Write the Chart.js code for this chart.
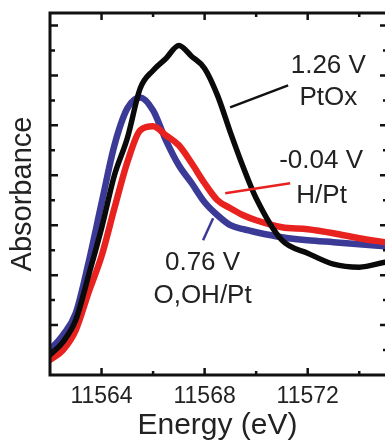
<!DOCTYPE html>
<html>
<head>
<meta charset="utf-8">
<script src="https://cdn.jsdelivr.net/npm/chart.js@4/dist/chart.umd.min.js"></script>
<style>
  html, body { margin: 0; padding: 0; background: #fff; }
  #wrap { width: 385px; height: 441px; }
</style>
</head>
<body>
<div id="wrap"><canvas id="xanes"></canvas></div>
<script>
// Pt L3 edge spectra
const energy = [11562, 11562.5, 11563, 11563.5, 11564, 11564.5, 11565, 11565.5, 11566, 11566.5, 11567,
    11567.5, 11568, 11568.5, 11569, 11569.5, 11570, 11571, 11572, 11573, 11574, 11575];
const ptox = [0.80, 1.32, 2.20, 4.00, 5.88, 8.00, 9.48, 11.48, 12.20, 12.68, 13.20,
    12.76, 12.28, 11.20, 9.72, 8.32, 7.08, 5.40, 4.88, 4.44, 4.32, 4.52];     // 1.26 V
const ohpt = [1.00, 1.60, 2.48, 4.52, 6.88, 9.20, 10.68, 11.12, 10.60, 9.40, 8.40,
    7.68, 6.92, 6.40, 6.00, 5.84, 5.72, 5.52, 5.40, 5.32, 5.24, 5.16];        // 0.76 V
const hpt = [0.60, 1.00, 1.80, 3.32, 4.76, 6.68, 8.52, 9.80, 9.96, 9.60, 9.20,
    8.48, 7.68, 7.00, 6.68, 6.40, 6.20, 5.92, 5.84, 5.68, 5.48, 5.32];        // -0.04 V

const xTickLabels = [11564, 11568, 11572];
const xMinorTicks = [11566, 11570, 11574];

// labels and pointer lines, in data units
const notes = [
    { text: "1.26 V", x: 11572.8, y: 12.08 },
    { text: "PtOx", x: 11572.8, y: 10.8 },
    { text: "-0.04 V", x: 11572.52, y: 8.28 },
    { text: "H/Pt", x: 11572.54, y: 6.88 },
    { text: "0.76 V", x: 11567.92, y: 4.2 },
    { text: "O,OH/Pt", x: 11567.92, y: 2.88 }
];
const pointers = [
    { color: "#111", from: [11568.99, 10.72], to: [11571.24, 11.6] },
    { color: "#e8231f", from: [11568.8, 7.28], to: [11571.32, 7.68] },
    { color: "#3b3b96", from: [11567.94, 5.4], to: [11568.33, 6.28] }
];

const toPoints = (ys) => ys.map((v, i) => ({ x: energy[i], y: v }));

const FONT = "'Liberation Sans', Arial, Helvetica, sans-serif";

const framePlugin = {
    id: "frame",
    afterDatasetsDraw(chart) {
        const { ctx, chartArea: a, scales: { x, y } } = chart;
        ctx.save();

        // pointer lines
        ctx.lineWidth = 2.5;
        pointers.forEach(p => {
            ctx.strokeStyle = p.color;
            ctx.beginPath();
            ctx.moveTo(x.getPixelForValue(p.from[0]), y.getPixelForValue(p.from[1]));
            ctx.lineTo(x.getPixelForValue(p.to[0]), y.getPixelForValue(p.to[1]));
            ctx.stroke();
        });

        // labels
        ctx.fillStyle = "#222";
        ctx.font = "26px " + FONT;
        ctx.textAlign = "center";
        ctx.textBaseline = "alphabetic";
        notes.forEach(n => ctx.fillText(n.text, x.getPixelForValue(n.x), y.getPixelForValue(n.y)));

        // box (right side is cut off by the picture edge)
        ctx.strokeStyle = "#111";
        ctx.lineWidth = 3;
        ctx.beginPath();
        ctx.moveTo(a.right + 3, a.top);
        ctx.lineTo(a.left, a.top);
        ctx.lineTo(a.left, a.bottom);
        ctx.lineTo(a.right + 3, a.bottom);
        ctx.stroke();

        // inward ticks
        ctx.lineWidth = 2.5;
        ctx.beginPath();
        const xTick = (v, len) => {
            const px = x.getPixelForValue(v);
            ctx.moveTo(px, a.bottom); ctx.lineTo(px, a.bottom - len);
            ctx.moveTo(px, a.top); ctx.lineTo(px, a.top + len);
        };
        xTickLabels.forEach(v => xTick(v, 7));
        xMinorTicks.forEach(v => xTick(v, 4));
        for (let k = 1; k <= 14; k++) {
            const py = y.getPixelForValue(k);
            const len = k % 2 === 0 ? 8 : 5;
            ctx.moveTo(a.left, py); ctx.lineTo(a.left + len, py);
            ctx.moveTo(a.right + 3, py); ctx.lineTo(a.right + 3 - len, py);
        }
        ctx.stroke();
        ctx.restore();
    }
};

const ctx = document.getElementById("xanes").getContext("2d");
const xanesChart = new Chart(ctx, {
    type: "line",
    data: {
        datasets: [{
            label: "1.26 V PtOx",
            data: toPoints(ptox),
            borderColor: "#0a0a0a",
            borderWidth: 5.5
        }, {
            label: "-0.04 V H/Pt",
            data: toPoints(hpt),
            borderColor: "#e8231f",
            borderWidth: 6.5
        }, {
            label: "0.76 V O,OH/Pt",
            data: toPoints(ohpt),
            borderColor: "#3b3a96",
            borderWidth: 6.5
        }]
    },
    options: {
        responsive: true,
        maintainAspectRatio: false,
        animation: false,
        devicePixelRatio: 1,
        layout: { padding: { top: 13, right: 0, left: 0, bottom: 0 } },
        elements: {
            point: { radius: 0 },
            line: { cubicInterpolationMode: "monotone", borderJoinStyle: "round", borderCapStyle: "round" }
        },
        plugins: {
            legend: { display: false },
            tooltip: { enabled: false }
        },
        scales: {
            x: {
                type: "linear",
                min: 11562,
                max: 11575,
                afterBuildTicks: (scale) => {
                    scale.ticks = xTickLabels.map(v => ({ value: v }));
                },
                afterFit: (scale) => { scale.height = 66; },
                grid: { display: false, drawTicks: false },
                border: { display: false },
                ticks: {
                    padding: 8,
                    color: "#222",
                    font: { family: FONT, size: 23 },
                    callback: (v) => String(v)
                },
                title: {
                    display: true,
                    text: "Energy (eV)",
                    color: "#222",
                    font: { family: FONT, size: 30, lineHeight: 1 },
                    padding: { top: 0, bottom: 0 }
                }
            },
            y: {
                min: 0,
                max: 14.5,
                afterFit: (scale) => { scale.width = 50; },
                grid: { display: false, drawTicks: false },
                border: { display: false },
                ticks: { display: false },
                title: {
                    display: true,
                    text: "Absorbance",
                    color: "#222",
                    font: { family: FONT, size: 29, lineHeight: 1 },
                    padding: { top: 8, bottom: 0 }
                }
            }
        }
    },
    plugins: [framePlugin]
});
</script>
</body>
</html>
